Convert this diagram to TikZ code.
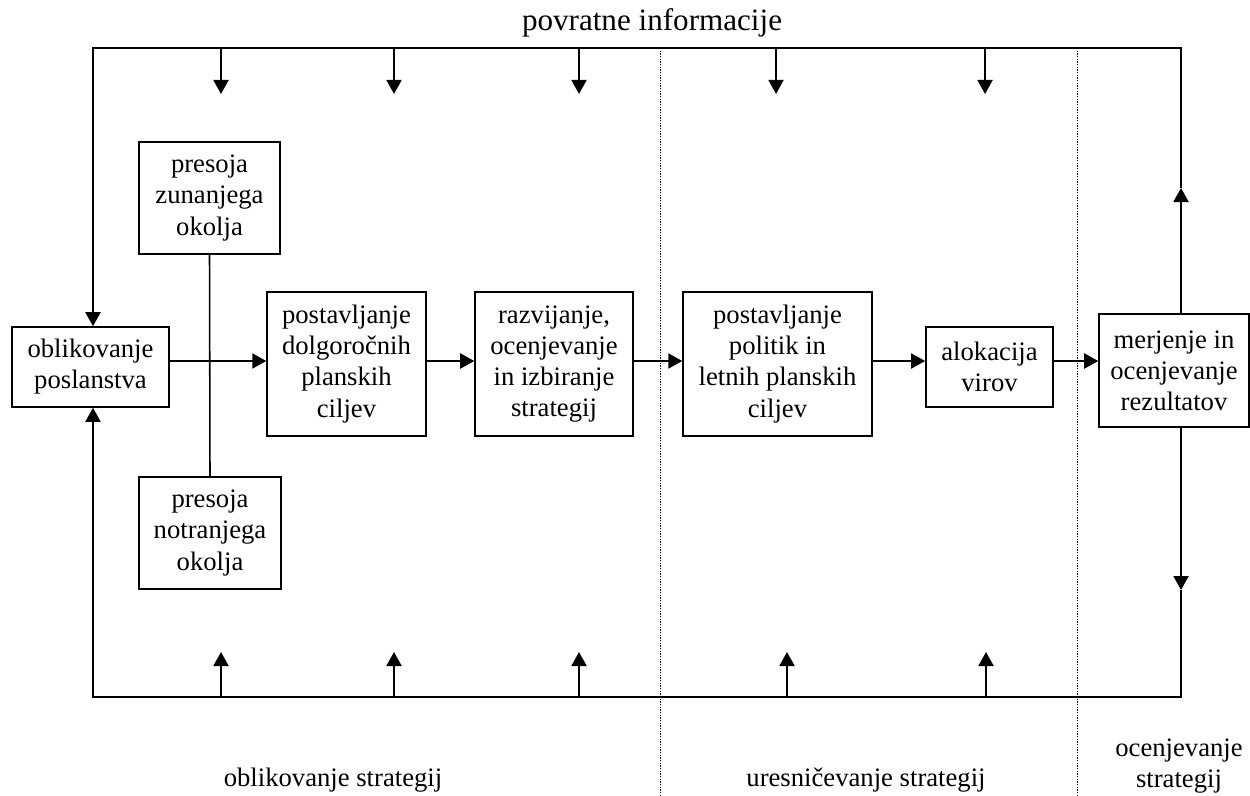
\documentclass[tikz,border=0pt]{standalone}
\usepackage{fontspec}
\setmainfont{Liberation Serif}
\usetikzlibrary{arrows.meta}
\begin{document}
\begin{tikzpicture}[x=0.45pt, y=-0.45pt, line width=0.7pt,
		font=\fontsize{12}{14}\selectfont,
		box/.style={draw, align=center, inner sep=0pt},
		tri/.style={-{Triangle[length=6.3pt, width=6.8pt]}},
		phase/.style={line width=0.4pt, dash pattern=on 0.6pt off 0.6pt}]
	\useasboundingbox (0,0) rectangle (1250,795);
	
	% corners of the feedback loop
	\coordinate (tl) at (93,48);
	\coordinate (tr) at (1181,48);
	\coordinate (bl) at (93,697);
	\coordinate (br) at (1181,697);
	\coordinate (up) at (1181,188);
	\coordinate (down) at (1181,590);
	\coordinate (flow) at (0,361);
	
	% phase borders
	\foreach \x in {660, 1077}{
		\draw[phase] (tl -| \x,0) -- (\x,795);
	}
	
	% boxes
	\node[box, minimum width=70.6pt, minimum height=36pt] (mission) at (90.5,367) {oblikovanje\\poslanstva};
	\node[box, minimum width=63.4pt, minimum height=50.4pt] (extern) at (209.5,198) {presoja\\zunanjega\\okolja};
	\node[box, minimum width=63.9pt, minimum height=50.4pt] (intern) at (210,533) {presoja\\notranjega\\okolja};
	\node[box, minimum width=71.5pt, minimum height=64.8pt] (goals) at (346.5,364) {postavljanje\\dolgoročnih\\planskih\\ciljev};
	\node[box, minimum width=71.1pt, minimum height=64.8pt] (strat) at (554,364) {razvijanje,\\ocenjevanje\\in izbiranje\\strategij};
	\node[box, minimum width=85pt, minimum height=64.8pt] (policy) at (777.5,364) {postavljanje\\politik in\\letnih planskih\\ciljev};
	\node[box, minimum width=57.2pt, minimum height=36pt] (alloc) at (989.5,367) {alokacija\\virov};
	\node[box, minimum width=67.5pt, minimum height=50.9pt] (measure) at (1174,370.5) {merjenje in\\ocenjevanje\\rezultatov};
	
	% main flow
	\draw (extern.south) -- (intern.north);
	\draw[tri] (mission.east |- flow) -- (goals.west |- flow);
	\draw[tri] (goals.east |- flow) -- (strat.west |- flow);
	\draw[tri] (strat.east |- flow) -- (policy.west |- flow);
	\draw[tri] (policy.east |- flow) -- (alloc.west |- flow);
	\draw[tri] (alloc.east |- flow) -- (measure.west |- flow);
	
	% feedback
	\draw[tri] (measure.north -| tr) -- (up);
	\draw[tri] (up) -- (tr) -- (tl) -- (mission.north -| tl);
	\draw[tri] (measure.south -| br) -- (down);
	\draw[tri] (down) -- (br) -- (bl) -- (mission.south -| bl);
	\foreach \x in {221, 394, 579, 776, 985}{
		\draw[tri] (tl -| \x,0) -- ++(0,46);
	}
	\foreach \x in {221, 394, 579, 787, 986}{
		\draw[tri] (bl -| \x,0) -- ++(0,-45);
	}
	
	% labels
	\node[font=\fontsize{14}{16}\selectfont] (feedback) at (652,23) {povratne informacije};
	\node (form) at (333,780) {oblikovanje strategij};
	\node (impl) at (866,780) {uresničevanje strategij};
	\node[align=center] (eval) at (1179,766) {ocenjevanje\\strategij};
\end{tikzpicture}
\end{document}
